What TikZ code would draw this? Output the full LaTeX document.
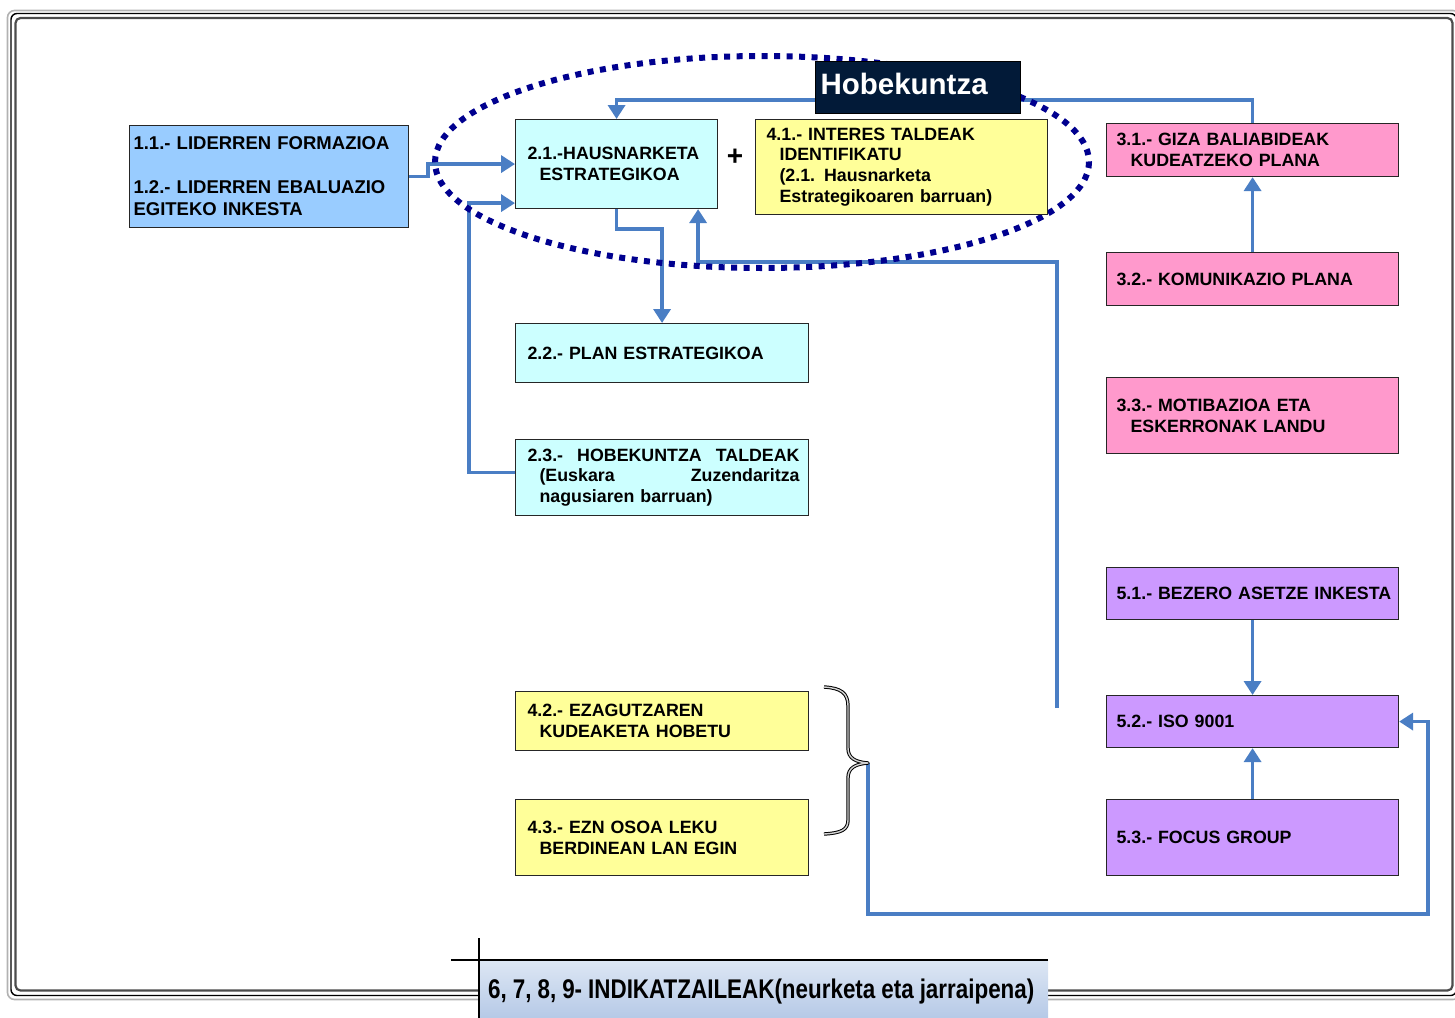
\documentclass[tikz,border=0pt]{standalone}
\usepackage{fontspec}
\setmainfont{Liberation Sans}
\newfontface\narrowbold[FakeStretch=0.83]{Liberation Sans Bold}
\usetikzlibrary{arrows.meta}
\pgfdeclarelayer{bg}
\pgfsetlayers{bg,main}
\definecolor{boxblue}{HTML}{99CCFF}
\definecolor{boxcyan}{HTML}{CCFFFF}
\definecolor{boxyellow}{HTML}{FFFF99}
\definecolor{boxpink}{HTML}{FF99CC}
\definecolor{boxpurple}{HTML}{CC99FF}
\definecolor{connblue}{HTML}{4A7EC4}
\definecolor{navyring}{HTML}{00008F}
\definecolor{navybox}{HTML}{021A38}
\definecolor{lbltop}{HTML}{DDE7F4}
\definecolor{lblbot}{HTML}{B3C7E6}
\begin{document}
\begin{tikzpicture}[x=1pt,y=-1pt,
  bx/.style={draw=black!85, line width=1.1pt, anchor=north west, align=left,
    inner ysep=0pt, font=\fontsize{17.8}{20.8}\selectfont\bfseries},
  cyanbox/.style={bx, fill=boxcyan, inner xsep=12pt},
  yellowbox/.style={bx, fill=boxyellow, inner xsep=11pt},
  pinkbox/.style={bx, fill=boxpink, inner xsep=10pt, minimum width=292pt, text width=272pt},
  purplebox/.style={bx, fill=boxpurple, inner xsep=10pt, minimum width=292pt, text width=272pt},
  conn/.style={draw=connblue, line width=3.6pt, line join=miter,
    -{Triangle[width=17pt,length=14pt]}},
  framegray/.style={draw=gray!60, line width=1.6pt, rounded corners=7pt},
  frameblack/.style={draw=black, line width=1.4pt, rounded corners=6pt},
  frameinner/.style={draw=black!70, line width=2.2pt, rounded corners=5pt},
  ring/.style={draw=navyring, line width=6pt, dash pattern=on 6pt off 6.5pt},
  bracestyle/.style={draw=black, line width=1pt, double=gray!35, double distance=1.4pt, line join=round},
  edgeline/.style={draw=black, line width=1.2pt},
]
\clip (0,0) rectangle (1455,1017);
\useasboundingbox (0,0) rectangle (1455,1017);

% ---------- boxes ----------
\node[bx, fill=boxblue, inner xsep=4pt, minimum width=279pt, text width=271pt,
      minimum height=102pt, font=\fontsize{18.5}{22}\selectfont\bfseries] (b1) at (129,125)
  {\mbox{1.1.- LIDERREN FORMAZIOA}\\[22pt]\mbox{1.2.- LIDERREN EBALUAZIO}\\\mbox{EGITEKO INKESTA}};
\node[cyanbox, minimum width=202pt, text width=178pt, minimum height=89pt] (b21) at (515,119)
  {\mbox{2.1.-HAUSNARKETA}\\\hspace*{12pt}\mbox{ESTRATEGIKOA}};
\node[cyanbox, minimum width=293pt, text width=269pt, minimum height=59pt] (b22) at (515,323)
  {\mbox{2.2.- PLAN ESTRATEGIKOA}};
\node[cyanbox, minimum width=293pt, text width=269pt, minimum height=76pt] (b23) at (515,439)
  {\hbox to 272pt{2.3.-\hfill HOBEKUNTZA\hfill TALDEAK}\\\hspace*{12pt}\hbox to 260pt{(Euskara\hfill Zuzendaritza}\\\hspace*{12pt}\mbox{nagusiaren barruan)}};
\node[yellowbox, minimum width=292pt, text width=270pt, minimum height=95pt] (b41) at (755,119)
  {\mbox{4.1.- INTERES TALDEAK}\\\hspace*{13pt}\mbox{IDENTIFIKATU}\\\hspace*{13pt}\mbox{(2.1. Hausnarketa}\\\hspace*{13pt}\mbox{Estrategikoaren barruan)}};
\node[yellowbox, inner xsep=12pt, minimum width=293pt, text width=269pt, minimum height=59pt] (b42) at (515,691)
  {\mbox{4.2.- EZAGUTZAREN}\\\hspace*{12pt}\mbox{KUDEAKETA HOBETU}};
\node[yellowbox, inner xsep=12pt, minimum width=293pt, text width=269pt, minimum height=76pt] (b43) at (515,799)
  {\mbox{4.3.- EZN OSOA LEKU}\\\hspace*{12pt}\mbox{BERDINEAN LAN EGIN}};
\node[pinkbox, minimum height=53pt] (b31) at (1106,123)
  {\mbox{3.1.- GIZA BALIABIDEAK}\\\hspace*{14pt}\mbox{KUDEATZEKO PLANA}};
\node[pinkbox, minimum height=53pt] (b32) at (1106,252)
  {\mbox{3.2.- KOMUNIKAZIO PLANA}};
\node[pinkbox, minimum height=76pt] (b33) at (1106,377)
  {\mbox{3.3.- MOTIBAZIOA ETA}\\\hspace*{14pt}\mbox{ESKERRONAK LANDU}};
\node[purplebox, minimum height=52pt] (b51) at (1106,567)
  {\mbox{5.1.- BEZERO ASETZE INKESTA}};
\node[purplebox, minimum height=52pt] (b52) at (1106,695)
  {\mbox{5.2.- ISO 9001}};
\node[purplebox, minimum height=76pt] (b53) at (1106,799)
  {\mbox{5.3.- FOCUS GROUP}};

% Hobekuntza label
\node[draw=black, line width=1pt, fill=navybox, anchor=north west, minimum width=205pt,
      minimum height=52pt, inner xsep=5pt, inner ysep=0pt, text width=195pt, text depth=8pt,
      align=left, text=white, font=\fontsize{29.5}{30}\selectfont\bfseries] (hob) at (815,61) {Hobekuntza};

% plus sign
\node[font=\fontsize{28}{28}\selectfont\bfseries, inner sep=0pt] (plus) at (735,157) {+};

% free ends / bends
\coordinate (free5) at (1057,708);
\coordinate (bracetip) at (868,763);
\coordinate (loopcorner) at (1428,914);

% brace
\draw[bracestyle] (824,687) .. controls (841,688) and (848,693) .. (848,706)
  -- (848,748) .. controls (848,758) and (855,762) .. (bracetip)
  .. controls (855,764) and (848,768) .. (848,778)
  -- (848,820) .. controls (848,830) and (841,833) .. (824,834);

% bottom indicator label
\node[anchor=north west, minimum width=569pt, minimum height=62pt, inner xsep=9pt,
      inner ysep=0pt, text width=551pt, align=left, top color=lbltop, bottom color=lblbot,
      font=\narrowbold\fontsize{27}{27}\selectfont] (ind) at (479,960)
  {\spaceskip=6pt\mbox{6, 7, 8, 9- INDIKATZAILEAK(neurketa eta jarraipena)}};
\draw[edgeline] (451,960) -- (ind.north east);
\draw[edgeline] (479,938) -- (ind.south west);

% ---------- background: frame, connectors, ring ----------
\begin{pgfonlayer}{bg}
\draw[framegray] (7.5,10.5) rectangle (1460,999.5);
\draw[frameblack] (11,13.5) rectangle (1456.5,995.5);
\draw[frameinner] (15.5,18) rectangle (1452.5,990.5);

\draw[conn] (b1.east) -- ++(19,0) |- (b21.west);
\draw[conn] ([yshift=5pt]b23.west) -- ++(-46,0) |- ([yshift=6pt]b21.south west);
\draw[conn] (b31.north) -- ++(0,-23) -| (b21.north);
\draw[conn] (b21.south) -- ++(0,20) -| (b22.north);
\draw[conn] (free5) -- ++(0,-446) -| ([xshift=-20pt]b21.south east);
\draw[conn] (b32.north) -- (b31.south);
\draw[conn] (b51.south) -- (b52.north);
\draw[conn] (b53.north) -- (b52.south);
\draw[conn] (bracetip) |- (loopcorner) |- (b52.east);

\draw[ring] (762,162) ellipse [x radius=327, y radius=106];
\end{pgfonlayer}
\end{tikzpicture}
\end{document}
